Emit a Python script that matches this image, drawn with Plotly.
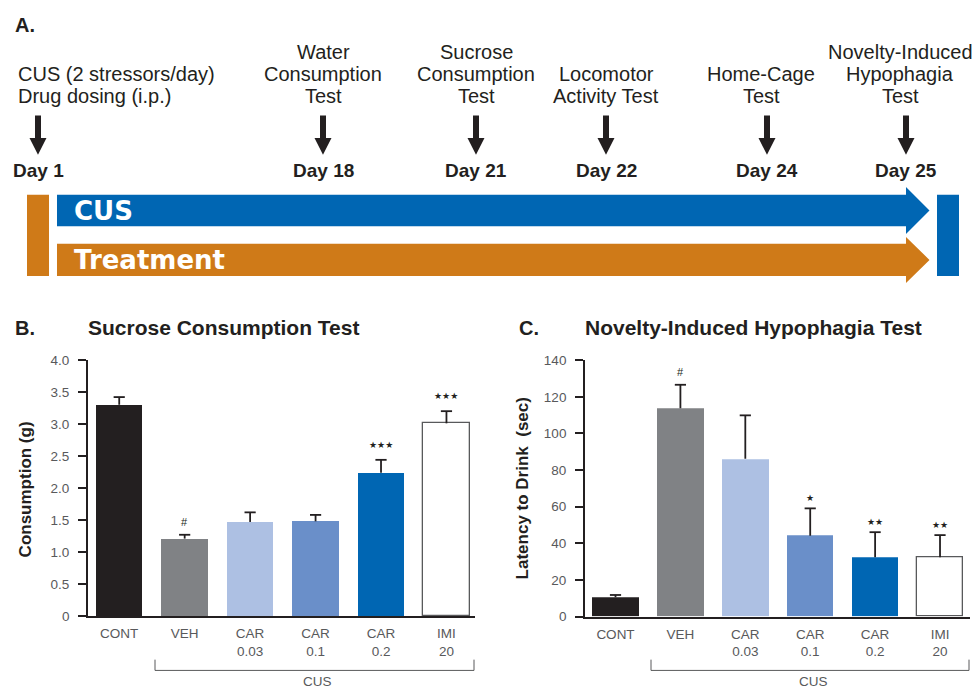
import plotly.graph_objects as go

W, H = 973, 697

# ---------------- data ----------------
groups = ["CONT", "VEH", "CAR<br>0.03", "CAR<br>0.1", "CAR<br>0.2", "IMI<br>20"]
bar_colors = ["#231f20", "#808285", "#adc0e3", "#6a8fc9", "#0066b3", "#ffffff"]

sucrose_mean = [3.30, 1.21, 1.47, 1.48, 2.24, 3.01]
sucrose_sem = [0.12, 0.06, 0.15, 0.10, 0.20, 0.19]
sucrose_sig = ["", "#", "", "", "***", "***"]
sucrose_ticks = [0, 0.5, 1.0, 1.5, 2.0, 2.5, 3.0, 3.5, 4.0]
sucrose_ticktext = ["0", "0.5", "1.0", "1.5", "2.0", "2.5", "3.0", "3.5", "4.0"]

nih_mean = [10.5, 113.8, 86.2, 44.2, 32.4, 32.4]
nih_sem = [1.3, 12.8, 23.7, 14.9, 13.7, 12.1]
nih_sig = ["", "#", "", "*", "**", "**"]
nih_ticks = [0, 20, 40, 60, 80, 100, 120, 140]

timeline_days = ["Day 1", "Day 18", "Day 21", "Day 22", "Day 24", "Day 25"]
timeline_events = [
    ["CUS (2 stressors/day)", "Drug dosing (i.p.)"],
    ["Water", "Consumption", "Test"],
    ["Sucrose", "Consumption", "Test"],
    ["Locomotor", "Activity Test"],
    ["Home-Cage", "Test"],
    ["Novelty-Induced", "Hypophagia", "Test"],
]

# ---------------- layout helpers ----------------
FONT = "Liberation Sans, Arial, sans-serif"
DARK = "#231f20"
GREY = "#58595b"
BLUE = "#0066b3"
ORANGE = "#cf7a18"


def px(x):
    return x / W


def py(y):
    return 1 - y / H


def path(points):
    return "M " + " L ".join(f"{px(x):.5f},{py(y):.5f}" for x, y in points) + " Z"


fig = go.Figure()

bar_line_w = [0, 0, 0, 0, 0, 1.3]


def add_panel(means, sems, xa, ya, width):
    idx = list(range(len(groups)))
    fig.add_trace(go.Bar(
        x=idx, y=means, width=width,
        marker=dict(color=bar_colors, line=dict(color=GREY, width=bar_line_w)),
        xaxis=xa, yaxis=ya, hoverinfo="skip"))
    # upper-only error bars: stem from mean to mean+sem, cap at the top
    ex, ey = [], []
    for i, m, s in zip(idx, means, sems):
        ex += [i, i, None]
        ey += [m, m + s, None]
    fig.add_trace(go.Scatter(
        x=ex, y=ey, mode="lines", line=dict(color=DARK, width=1.8),
        xaxis=xa, yaxis=ya, hoverinfo="skip", cliponaxis=False))
    fig.add_trace(go.Scatter(
        x=idx, y=[m + s for m, s in zip(means, sems)], mode="markers",
        marker=dict(symbol="line-ew", size=8, line=dict(color=DARK, width=1.8)),
        xaxis=xa, yaxis=ya, hoverinfo="skip", cliponaxis=False))


add_panel(sucrose_mean, sucrose_sem, "x", "y", 0.71)
add_panel(nih_mean, nih_sem, "x2", "y2", 0.716)

axis_common = dict(showline=True, linecolor=DARK, linewidth=1.8, showgrid=False,
                   zeroline=False, fixedrange=True,
                   tickfont=dict(family=FONT, size=13.5, color=GREY))

layout_axes = dict(
    xaxis=dict(domain=[px(88), px(475)], range=[-0.477, 5.436], anchor="y",
               tickvals=list(range(len(groups))), ticktext=groups, ticks="",
               ticklabelstandoff=4, **axis_common),
    yaxis=dict(domain=[py(622.5), py(360.7)], range=[0, 4], anchor="x",
               tickvals=sucrose_ticks, ticktext=sucrose_ticktext, ticks="outside",
               ticklen=8, tickwidth=1.5, tickcolor=DARK, ticklabelstandoff=6,
               **axis_common),
    xaxis2=dict(domain=[px(585), px(970)], range=[-0.47, 5.462], anchor="y2",
                tickvals=list(range(len(groups))), ticktext=groups, ticks="",
                ticklabelstandoff=4, **axis_common),
    yaxis2=dict(domain=[py(623), py(361)], range=[0, 140], anchor="x2",
                tickvals=nih_ticks, ticks="outside",
                ticklen=8, tickwidth=1.5, tickcolor=DARK, ticklabelstandoff=6,
                **axis_common),
)

annotations = []
shapes = []


def ann(text, x, y, size, bold=False, color=DARK, xanchor="left", yanchor="middle", angle=0):
    annotations.append(dict(
        text=f"<b>{text}</b>" if bold else text, x=px(x), y=py(y), xref="paper", yref="paper",
        xanchor=xanchor, yanchor=yanchor, showarrow=False, textangle=angle,
        font=dict(family=FONT, size=size, color=color)))


# significance markers (stars drawn as small star glyphs, as in the reference)
for xa, ya, means, sems, sigs, star_shift in [
        ("x", "y", sucrose_mean, sucrose_sem, sucrose_sig, 8),
        ("x2", "y2", nih_mean, nih_sem, nih_sig, 3.5)]:
    for i, (m, s, t) in enumerate(zip(means, sems, sigs)):
        if not t:
            continue
        if t == "#":
            annotations.append(dict(
                text="#", x=i, y=m + s, xref=xa, yref=ya, xanchor="center", yanchor="bottom",
                yshift=4.5, showarrow=False, font=dict(family=FONT, size=11, color=DARK)))
        else:
            annotations.append(dict(
                text=t.replace("*", "\u2605"), x=i, y=m + s, xref=xa, yref=ya,
                xanchor="center", yanchor="bottom", yshift=star_shift, showarrow=False,
                font=dict(family="DejaVu Sans, sans-serif", size=9, color=DARK)))

# panel titles
ann("A.", 13, 18, 20, bold=True)
ann("B.", 13, 328, 20, bold=True)
ann("Sucrose Consumption Test", 86, 328, 21, bold=True)
ann("C.", 517, 328, 20, bold=True)
ann("Novelty-Induced Hypophagia Test", 583, 328, 21, bold=True)

# y-axis titles
ann("Consumption (g)", 25, 493, 17, bold=True, xanchor="center", angle=-90)
ann("Latency to Drink\u00a0\u00a0(sec)", 522, 492, 17, bold=True, xanchor="center", angle=-90)

# CUS brackets
for x0, x1, xc in [(155, 474, 317), (651, 969, 813)]:
    shapes.append(dict(type="path", xref="paper", yref="paper",
                       path=f"M {px(x0)},{py(667)} L {px(x0)},{py(678)} L {px(x1)},{py(678)} L {px(x1)},{py(667)}",
                       line=dict(color=GREY, width=1)))
    ann("CUS", xc, 689, 13.5, color=GREY, xanchor="center")

# ---------------- panel A: timeline ----------------
arrow_x = [38, 323, 476, 606, 767, 906]
text_x = [16, 323, 476, 606, 761, 900]
line_y = {3: [46.5, 68.5, 90.5], 2: [68.5, 90.5]}

for k, (day, ev) in enumerate(zip(timeline_days, timeline_events)):
    c = arrow_x[k]
    shapes.append(dict(type="path", xref="paper", yref="paper",
                       path=path([(c - 3, 111), (c + 3, 111), (c + 3, 134), (c + 8.5, 134),
                                  (c, 151), (c - 8.5, 134), (c - 3, 134)]),
                       fillcolor=DARK, line=dict(width=0)))
    ann(day, c, 167, 19, bold=True, xanchor="center")
    ys = line_y[len(ev)]
    for line, yy in zip(ev, ys):
        ann(line, text_x[k], yy, 20, xanchor="left" if k == 0 else "center")

# bars / arrows
shapes.append(dict(type="rect", xref="paper", yref="paper", x0=px(27), x1=px(49),
                   y0=py(275), y1=py(192), fillcolor=ORANGE, line=dict(width=0)))
shapes.append(dict(type="rect", xref="paper", yref="paper", x0=px(937), x1=px(959),
                   y0=py(275), y1=py(192), fillcolor=BLUE, line=dict(width=0)))
shapes.append(dict(type="path", xref="paper", yref="paper",
                   path=path([(57, 192), (906, 192), (906, 184), (929.5, 208), (906, 232),
                              (906, 224), (57, 224)]),
                   fillcolor=BLUE, line=dict(width=0)))
shapes.append(dict(type="path", xref="paper", yref="paper",
                   path=path([(57, 242), (906, 242), (906, 235), (929.5, 258.5), (906, 282),
                              (906, 275), (57, 275)]),
                   fillcolor=ORANGE, line=dict(width=0)))
annotations.append(dict(text="<b>CUS</b>", x=px(72), y=py(208), xref="paper", yref="paper",
                        xanchor="left", yanchor="middle", showarrow=False,
                        font=dict(family="DejaVu Sans, sans-serif", size=26, color="white")))
annotations.append(dict(text="<b>Treatment</b>", x=px(72), y=py(259), xref="paper", yref="paper",
                        xanchor="left", yanchor="middle", showarrow=False,
                        font=dict(family="DejaVu Sans, sans-serif", size=26, color="white")))

fig.update_layout(
    width=W, height=H, margin=dict(l=0, r=0, t=0, b=0),
    paper_bgcolor="white", plot_bgcolor="rgba(0,0,0,0)", showlegend=False,
    annotations=annotations, shapes=shapes, bargap=0, **layout_axes)

fig.write_html("out.html", config={"displayModeBar": False},
               post_script="document.body.style.margin='0px';"
                           "document.body.style.overflow='hidden';")
